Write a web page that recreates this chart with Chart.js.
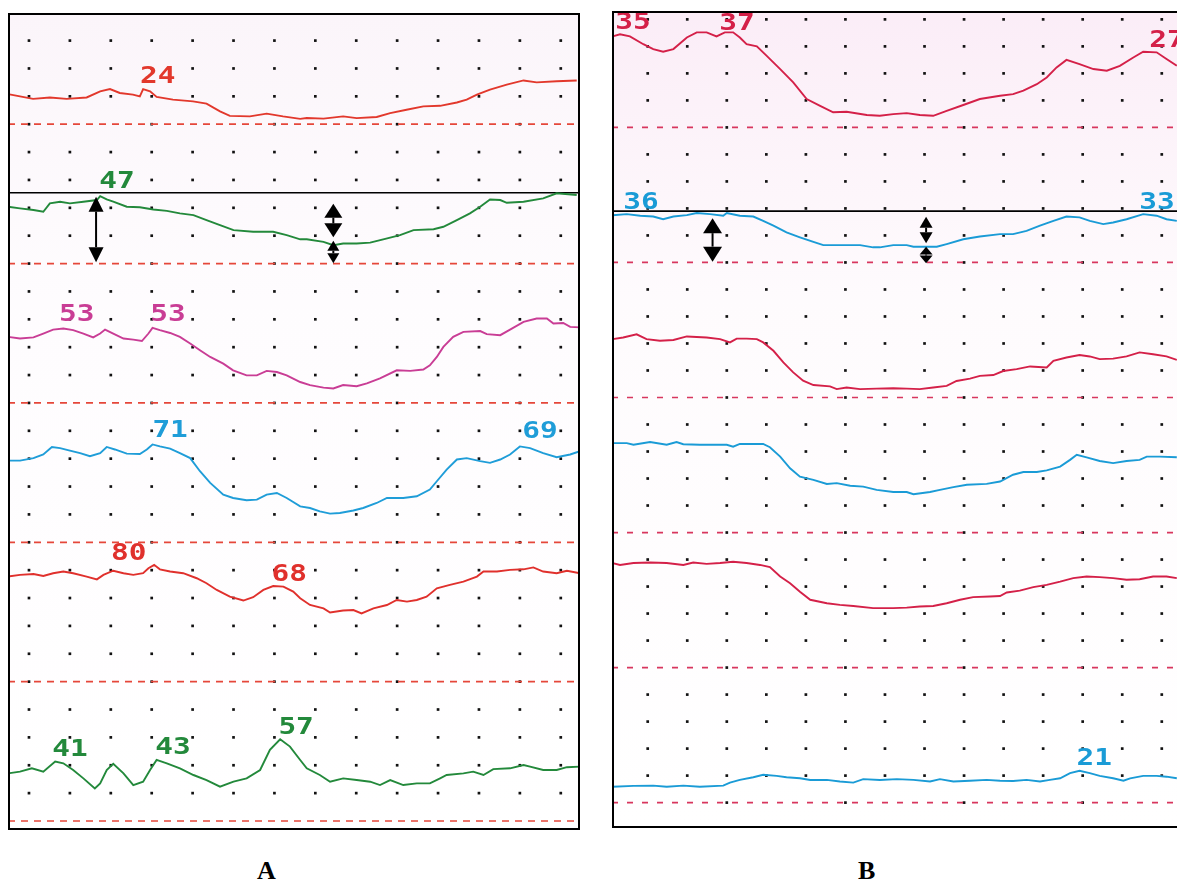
<!DOCTYPE html>
<html><head><meta charset="utf-8">
<script src="https://cdn.jsdelivr.net/npm/chart.js@4/dist/chart.umd.min.js"></script>
<style>
html,body{margin:0;padding:0;background:#fff;width:1177px;height:884px;overflow:hidden;position:relative}
#wa{position:absolute;left:8px;top:13px;width:572px;height:817px}
#wb{position:absolute;left:612px;top:11px;width:565px;height:817px}
.pl{position:absolute;font:bold 26px "Liberation Serif",serif;color:#000;line-height:26px}
</style></head><body>
<div id="wa"><canvas id="ca"></canvas></div>
<div id="wb"><canvas id="cb"></canvas></div>
<div class="pl" style="left:257px;top:858px">A</div>
<div class="pl" style="left:858px;top:858px">B</div>
<script>
// ---- Panel A traces: [time, amplitude above channel baseline] ----
const A1 = [[-5.1,10.8],[-2.2,10.0],[1.0,9.1],[5.1,9.6],[9.2,9.1],[14.1,9.6],[17.4,11.8],[19.8,12.6],[22.2,11.2],[25.4,10.6],[27.1,10.0],[27.9,12.6],[29.6,11.8],[31.2,9.8],[35.2,8.8],[40.1,8.2],[43.4,7.4],[46.7,4.6],[49.1,3.0],[54.0,2.8],[58.1,3.8],[62.1,2.8],[66.3,1.9],[67.9,2.2],[72.0,2.0],[76.8,2.8],[80.1,2.2],[85.0,2.6],[88.3,4.0],[92.3,5.2],[96.4,6.4],[100.5,6.6],[104.6,7.8],[107.0,8.8],[109.5,10.6],[112.7,12.4],[116.8,14.2],[120.9,15.7],[124.1,15.0],[129.0,15.4],[133.9,15.7]];
const A2 = [[-5.1,20.4],[-2.2,19.8],[1.1,19.2],[3.5,18.6],[5.1,21.6],[7.6,22.2],[10.0,21.6],[13.3,22.2],[16.6,22.8],[17.4,24.2],[19.0,23.0],[20.6,22.2],[23.9,20.4],[27.1,20.2],[30.4,19.4],[33.7,18.9],[36.9,18.0],[40.2,17.4],[43.4,15.6],[46.7,13.8],[50.0,12.0],[54.8,11.4],[59.7,11.4],[63.0,10.2],[66.3,8.7],[67.9,8.7],[72.0,7.8],[74.4,6.6],[76.8,7.2],[80.1,7.2],[83.4,7.5],[86.6,8.7],[90.7,10.2],[94.0,12.0],[98.9,12.3],[101.3,13.2],[104.6,15.6],[107.8,18.0],[110.3,20.4],[112.7,23.0],[115.2,22.8],[116.8,21.8],[120.9,22.2],[125.7,23.4],[129.0,25.2],[133.9,24.6]];
const A3 = [[-5.1,23.7],[-2.2,23.1],[1.1,23.5],[3.5,24.9],[5.9,26.3],[8.4,26.7],[10.8,26.1],[13.3,24.9],[15.7,23.5],[17.4,24.9],[18.6,26.3],[20.6,24.9],[23.1,23.1],[25.5,22.7],[27.6,22.2],[29.2,24.9],[30.2,26.9],[32.0,26.1],[34.5,25.1],[36.9,23.7],[39.4,21.3],[41.8,18.9],[44.3,16.5],[47.5,14.1],[49.9,11.7],[53.2,9.9],[55.7,9.9],[58.1,11.5],[60.6,11.1],[63.0,9.9],[66.3,7.5],[68.7,6.4],[72.0,5.5],[74.4,5.2],[76.8,6.4],[80.1,6.0],[82.6,7.0],[85.8,8.8],[89.9,11.7],[93.2,11.5],[96.4,12.0],[98.0,13.5],[99.7,16.5],[101.3,20.1],[103.7,23.7],[106.2,25.5],[110.3,25.8],[111.9,24.7],[115.2,24.3],[117.6,26.3],[120.9,29.1],[124.1,30.3],[126.6,30.3],[128.2,28.5],[130.6,28.7],[132.3,27.3],[134.7,27.1]];
const A4 = [[-5.1,29.3],[-2.2,29.3],[1.1,30.2],[3.5,31.5],[5.6,34.2],[7.6,33.8],[10.0,32.9],[12.5,32.0],[14.9,30.9],[17.4,32.0],[19.0,34.2],[21.0,33.3],[23.9,31.8],[27.1,31.7],[28.8,33.3],[30.2,35.1],[32.0,34.4],[34.5,33.6],[36.9,32.0],[39.4,30.2],[41.8,25.5],[44.3,21.3],[47.5,17.1],[49.9,15.9],[53.2,15.1],[55.7,15.3],[58.1,17.1],[60.6,17.7],[63.0,15.9],[66.3,12.9],[68.7,12.3],[71.1,11.1],[73.6,10.3],[76.0,10.5],[79.3,11.4],[81.7,12.3],[85.0,14.1],[87.5,15.9],[91.5,15.9],[94.8,16.5],[98.0,18.9],[99.7,21.9],[102.1,26.1],[104.6,29.7],[107.0,30.2],[110.3,29.1],[112.7,28.5],[115.2,29.7],[117.6,31.5],[120.0,34.4],[122.5,33.8],[125.7,32.0],[129.0,30.5],[132.3,31.5],[134.7,32.7]];
const A5 = [[-5.1,37.7],[-2.2,38.3],[1.1,38.6],[3.5,37.9],[5.9,38.9],[8.4,39.5],[10.8,38.9],[14.1,37.7],[16.6,36.7],[18.2,38.3],[20.6,39.8],[23.1,38.9],[25.5,38.3],[27.9,38.9],[29.2,40.7],[30.6,41.9],[32.0,40.3],[34.5,39.5],[37.7,38.9],[41.0,37.1],[43.4,35.3],[45.9,32.9],[49.1,30.5],[52.4,29.1],[54.8,30.3],[57.3,32.9],[59.7,34.3],[62.2,34.1],[64.6,32.3],[66.3,29.9],[68.7,27.5],[72.0,26.3],[73.6,24.8],[76.8,25.5],[79.3,25.7],[81.3,24.5],[84.2,26.3],[87.5,27.5],[89.9,29.3],[92.4,28.7],[94.8,29.3],[97.2,30.5],[99.7,33.5],[102.9,34.7],[106.2,35.9],[109.5,37.7],[111.1,39.5],[114.4,39.5],[117.6,40.1],[120.9,40.3],[123.3,41.0],[125.7,39.5],[129.0,38.9],[131.5,39.8],[134.7,38.9]];
const A6 = [[-5.1,17.1],[-2.2,17.7],[0.7,18.9],[3.5,17.7],[6.4,21.3],[8.4,20.7],[10.8,18.3],[13.3,15.3],[16.1,11.7],[17.4,13.5],[19.0,18.3],[20.6,20.5],[23.1,17.1],[25.5,12.9],[27.9,14.1],[29.6,18.3],[31.2,21.9],[33.7,20.7],[36.9,18.9],[40.2,16.5],[43.4,14.7],[46.7,12.3],[50.0,14.1],[53.2,15.3],[56.5,18.3],[58.9,25.5],[61.4,29.3],[63.8,26.7],[66.3,21.9],[67.9,18.9],[71.1,16.5],[73.6,14.1],[76.8,15.3],[80.1,14.7],[83.4,14.1],[85.8,12.9],[88.3,14.7],[91.5,12.9],[94.8,13.5],[98.0,13.5],[100.5,15.3],[102.1,16.5],[106.2,17.1],[108.6,17.7],[111.1,16.5],[113.5,18.6],[117.6,18.9],[120.9,20.1],[122.5,19.5],[125.7,18.3],[129.0,18.3],[131.5,19.3],[134.7,19.5]];

// ---- Panel B traces ----
const B1 = [[-8.85,33.7],[-7.0,34.5],[-4.5,33.7],[-1.1,30.8],[1.4,29.0],[3.9,28.0],[6.5,29.0],[9.9,33.3],[12.4,35.2],[14.9,35.2],[17.4,33.7],[19.5,35.2],[21.6,35.2],[23.3,33.3],[25.0,30.8],[27.6,30.0],[30.1,26.5],[33.5,21.6],[36.8,16.7],[40.2,10.5],[43.6,8.0],[46.9,5.6],[50.3,5.8],[55.4,4.6],[58.7,4.3],[62.1,4.9],[65.5,5.3],[68.8,4.6],[72.2,4.3],[75.6,6.1],[79.8,8.3],[84.0,10.5],[89.1,11.7],[92.4,12.3],[95.0,13.6],[98.4,16.0],[100.9,18.5],[103.4,22.2],[105.9,25.0],[109.2,23.4],[112.7,21.6],[116.1,21.0],[119.4,22.8],[122.8,25.9],[125.3,28.0],[128.7,27.8],[131.2,25.3],[133.8,22.8]];
const B2 = [[-8.85,17.5],[-5.3,17.9],[-1.9,17.3],[1.4,17.0],[3.9,16.0],[6.5,17.0],[9.9,17.5],[12.4,18.3],[15.8,17.9],[19.1,17.3],[20.0,18.3],[23.3,17.3],[26.7,17.0],[29.2,15.4],[31.8,13.6],[35.1,11.1],[38.5,9.3],[41.9,7.6],[44.4,6.4],[48.6,6.4],[53.7,6.4],[57.0,5.6],[58.7,5.6],[62.1,6.4],[65.5,6.4],[67.2,5.8],[73.1,5.8],[75.6,6.8],[79.8,8.6],[84.0,9.6],[89.1,10.5],[92.4,10.5],[95.8,11.7],[99.2,13.6],[102.6,15.4],[105.9,17.0],[109.2,16.7],[111.8,15.4],[115.2,14.2],[117.7,14.8],[121.1,16.0],[125.3,17.9],[128.7,17.3],[131.2,16.0],[133.8,15.4]];
const B3 = [[-8.85,21.6],[-6.2,22.2],[-2.8,23.4],[-0.3,21.6],[3.1,21.0],[6.5,21.3],[9.9,22.6],[14.9,22.2],[18.3,21.6],[20.8,20.4],[22.5,21.8],[25.0,21.8],[27.6,21.6],[29.2,20.4],[31.8,17.3],[34.3,13.0],[36.8,9.3],[39.3,6.2],[41.9,4.6],[46.1,4.1],[47.8,3.1],[50.3,3.7],[53.7,3.1],[57.9,3.3],[62.1,3.4],[65.5,3.3],[68.8,3.1],[72.2,3.7],[75.6,4.3],[78.1,6.1],[81.5,7.0],[84.0,8.0],[87.4,8.3],[89.9,9.8],[93.3,10.5],[96.7,11.5],[100.9,11.1],[102.6,13.6],[105.9,14.8],[109.2,15.7],[111.8,15.2],[114.3,14.2],[117.7,14.4],[121.1,15.2],[124.4,16.7],[127.8,16.0],[131.2,15.2],[133.8,13.9]];
const B4 = [[-8.85,33.1],[-5.3,33.1],[-3.6,32.5],[0.6,33.5],[4.8,32.5],[7.3,33.5],[9.0,32.7],[13.2,32.5],[20.0,32.5],[21.6,31.8],[23.3,32.8],[29.2,32.8],[30.9,31.6],[33.5,28.1],[36.0,23.8],[38.5,20.7],[41.9,19.5],[45.3,18.0],[47.8,18.3],[51.2,17.3],[54.5,17.0],[57.9,15.8],[62.1,15.0],[65.5,15.0],[67.2,14.2],[71.4,15.0],[73.9,15.8],[77.3,16.8],[80.7,17.7],[85.7,18.0],[89.1,18.9],[92.4,21.4],[95.0,22.4],[98.4,22.4],[100.9,23.0],[104.3,24.4],[106.8,26.9],[108.5,28.8],[111.0,27.8],[114.3,26.5],[117.7,25.7],[121.1,26.5],[124.4,26.9],[126.2,28.1],[129.5,28.1],[133.8,27.9]];
const B5 = [[-8.85,38.7],[-7.0,38.0],[-3.6,38.7],[0.6,38.9],[4.8,38.7],[9.0,38.0],[11.5,38.9],[14.9,38.4],[18.3,38.7],[21.6,39.2],[25.0,38.7],[28.4,38.0],[30.9,37.2],[33.5,33.7],[36.0,31.2],[38.5,28.1],[41.1,25.1],[45.3,23.8],[48.6,23.2],[52.0,22.8],[57.0,22.0],[62.1,22.0],[65.5,22.2],[68.8,22.6],[72.2,22.8],[75.6,23.8],[79.0,25.1],[82.3,26.1],[86.5,26.3],[89.1,26.5],[90.8,27.8],[94.1,28.5],[97.5,29.8],[100.9,30.6],[104.3,31.8],[107.6,33.1],[111.0,33.7],[114.3,33.5],[117.7,33.1],[121.1,32.5],[124.4,32.7],[127.8,33.7],[131.2,33.7],[133.8,33.1]];
const B6 = [[-8.85,5.9],[-3.6,6.2],[1.4,6.3],[4.8,5.9],[9.0,6.3],[13.2,5.9],[19.1,6.3],[20.8,7.4],[23.3,8.4],[26.7,9.4],[29.2,10.3],[32.6,9.9],[35.1,9.4],[38.5,9.0],[41.1,8.4],[45.3,8.4],[48.6,7.8],[52.0,7.4],[54.5,8.7],[58.7,8.4],[63.0,8.7],[67.2,8.4],[71.4,7.8],[73.9,8.7],[77.3,7.8],[81.5,8.1],[85.7,8.4],[89.1,8.1],[92.4,8.0],[95.8,8.4],[99.2,7.8],[101.7,8.4],[104.3,9.0],[106.8,10.9],[109.2,11.8],[111.8,10.9],[114.3,9.9],[117.7,9.0],[120.3,8.1],[122.0,9.0],[125.3,9.9],[128.7,9.9],[131.2,9.6],[133.8,9.0]];

// value labels: [text, channel, time, level]
const labelsA = [['24',0,31.5,266.9],['47',1,21.5,229.3],['53',2,11.7,181.6],['53',2,34.0,181.6],['71',3,34.5,139.9],['69',3,124.9,139.6],['80',4,24.4,95.8],['68',4,63.6,88.3],['41',5,10.0,25.5],['43',5,35.2,26.2],['57',5,65.3,33.4]];
const labelsB = [['35',0,-3.7,288.6],['37',0,22.6,288.3],['27',0,131.3,282.0],['36',1,-1.7,222.0],['33',1,128.8,222.0],['21',5,112.9,16.1]];
// amplitude arrows: [time, top level, bottom level]
const arrowsA = [[16.4,224.0,200.5],[74.4,221.5,209.4],[74.4,208.2,200.1]];
const arrowsB = [[16.4,216.4,200.3],[70.4,216.9,207.1],[70.4,205.8,199.7]];
// reference level of the marker line
const markA = 225.4, markB = 219.0;

// ---- layout / style ----
const baseLevels = [250,200,150,100,50,0];
const colorsA = ['#e2382c','#23893b','#c93d95','#1f9dd8','#e0302c','#23893b'];
const colorsB = ['#d42048','#1a9bd6','#d42048','#1a9bd6','#d42048','#1a9bd6'];

function grid(rowsSkip, dashCols, maxRow){
  const pts=[];
  for(let k=0;k<=maxRow;k++){
    const y=(29-k)*10;
    const dashed = rowsSkip.includes(k);
    for(let j=0;j<=13;j++){
      if(dashed){ if(dashCols.includes(j)) pts.push({x:j*10,y}); }
      else pts.push({x:j*10,y});
    }
  }
  return pts;
}

const deco = {
  id:'deco',
  beforeDraw(c,a,o){
    const {ctx,chartArea:ar}=c;
    const g=ctx.createLinearGradient(0,ar.top,0,ar.bottom);
    g.addColorStop(0,o.bg0); g.addColorStop(0.35,o.bg1); g.addColorStop(1,'#ffffff');
    ctx.save(); ctx.fillStyle=g; ctx.fillRect(ar.left,ar.top,ar.right-ar.left,ar.bottom-ar.top); ctx.restore();
  },
  afterDraw(c,a,o){
    const {ctx,chartArea:ar}=c; const xs=c.scales.x, ys=c.scales.y;
    ctx.save();
    ctx.fillStyle='#000'; ctx.strokeStyle='#000';
    o.arrows.forEach((ar2,i)=>{
      const x=xs.getPixelForValue(ar2[0]), y1=ys.getPixelForValue(ar2[1]), y2=ys.getPixelForValue(ar2[2]);
      const hw=o.heads[i][0], hl=Math.min(o.heads[i][1],(y2-y1)/2-0.5);
      ctx.lineWidth=2; ctx.beginPath(); ctx.moveTo(x,y1+hl); ctx.lineTo(x,y2-hl); ctx.stroke();
      ctx.beginPath(); ctx.moveTo(x,y1); ctx.lineTo(x-hw/2,y1+hl); ctx.lineTo(x+hw/2,y1+hl); ctx.closePath(); ctx.fill();
      ctx.beginPath(); ctx.moveTo(x,y2); ctx.lineTo(x-hw/2,y2-hl); ctx.lineTo(x+hw/2,y2-hl); ctx.closePath(); ctx.fill();
    });
    ctx.textAlign='center'; ctx.textBaseline='middle';
    ctx.font='bold 23px "DejaVu Sans Mono", monospace';
    o.labels.forEach(l=>{
      const x=xs.getPixelForValue(l[2]), y=ys.getPixelForValue(l[3]);
      ctx.save(); ctx.translate(x,y); ctx.scale(1.28,1); ctx.fillStyle=o.colors[l[1]]; ctx.fillText(l[0],0,0); ctx.restore();
    });
    ctx.strokeStyle='#000'; ctx.lineWidth=2; ctx.beginPath();
    const L=ar.left+1,T=ar.top+1,R=ar.right-1,Bt=ar.bottom-1;
    if(o.full){ ctx.rect(L,T,R-L,Bt-T); }
    else { ctx.moveTo(ar.right+2,T); ctx.lineTo(L,T); ctx.lineTo(L,Bt); ctx.lineTo(ar.right+2,Bt); }
    ctx.stroke();
    ctx.restore();
  }
};

function build(id, traces, colors, xr, yr, mark, dashColor, dash, dashCols, labels, arrows, heads, full, bg0, bg1, maxRow){
  const ds=[];
  traces.forEach((t,i)=>{
    ds.push({data:t.map(p=>({x:p[0],y:p[1]+baseLevels[i]})),borderColor:colors[i],borderWidth:1.9,pointRadius:0,tension:0,order:0});
    ds.push({data:[{x:xr[0],y:baseLevels[i]},{x:xr[1],y:baseLevels[i]}],borderColor:dashColor,borderWidth:1.7,borderDash:dash,pointRadius:0,order:1});
  });
  ds.push({data:[{x:xr[0],y:mark},{x:xr[1],y:mark}],borderColor:'#000',borderWidth:1.6,pointRadius:0,order:0});
  ds.push({data:grid([4,9,14,19,24,29],dashCols,maxRow),showLine:false,pointStyle:'rect',pointRadius:1.9,pointHoverRadius:1.9,pointBackgroundColor:'#111',pointBorderWidth:0,order:2});
  new Chart(document.getElementById(id),{
    type:'line',
    data:{datasets:ds},
    options:{
      responsive:true,maintainAspectRatio:false,animation:false,
      layout:{padding:0,autoPadding:false},
      events:[],
      scales:{x:{type:'linear',min:xr[0],max:xr[1],display:false},y:{type:'linear',min:yr[0],max:yr[1],display:false}},
      plugins:{legend:{display:false},tooltip:{enabled:false},
        deco:{labels,arrows,heads,colors,full,bg0,bg1}}
    },
    plugins:[deco]
  });
}

build('ca',[A1,A2,A3,A4,A5,A6],colorsA,[-5.13,134.7],[-3.23,289.9],markA,'#e5473a',[7,6],[0,3,6,9,12],labelsA,arrowsA,[[15,15],[18,14],[12,10]],true,'#fbf5fa','#fefcfe',28);
build('cb',[B1,B2,B3,B4,B5,B6],colorsB,[-9.03,133.85],[-9.4,293.1],markB,'#d8365e',[6,9],[2,5,8,11],labelsB,arrowsB,[[19,15],[13,11],[13,9]],false,'#fbedf7','#fefbfd',29);
</script>
</body></html>
